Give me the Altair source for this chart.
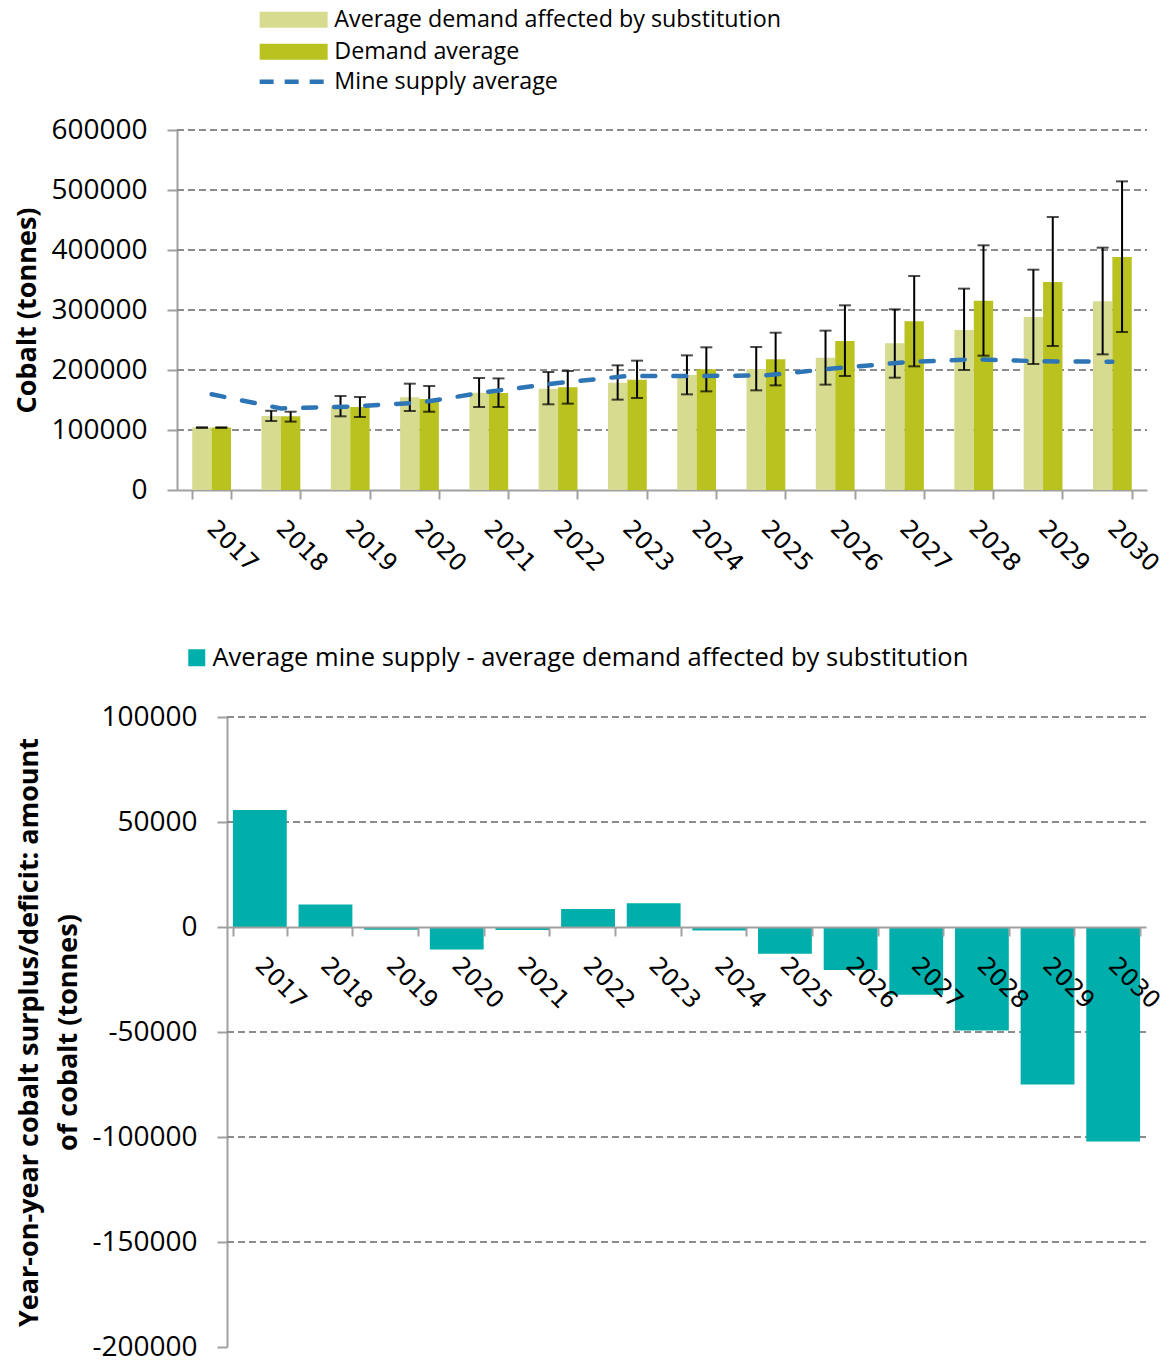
import altair as alt
import pandas as pd

years = [str(y) for y in range(2017, 2031)]

subst_avg = [104000, 123300, 140000, 154400, 162200, 168900, 178900, 191700, 201700, 220600, 244400, 266700, 288300, 314400]
subst_lo = [103500, 115000, 122800, 131700, 138300, 142800, 150600, 159400, 166100, 175600, 187200, 200000, 210000, 226100]
subst_hi = [104500, 132000, 156700, 177200, 186700, 196700, 207800, 224400, 238300, 265600, 301100, 335600, 367200, 403900]

demand_avg = [104000, 123000, 138300, 151700, 161700, 171100, 183900, 201100, 217800, 248300, 281100, 315600, 346700, 388300]
demand_lo = [103500, 114000, 121700, 130500, 138300, 143900, 153300, 164400, 174400, 190000, 206100, 223900, 240000, 263300]
demand_hi = [104500, 130500, 155000, 173300, 186000, 198300, 215600, 237800, 262200, 307800, 356700, 407800, 455000, 514400]

mine_avg = [159500, 136000, 139000, 145600, 163900, 178300, 190000, 190000, 191000, 202800, 212800, 217800, 214400, 213900]

gap = [55700, 10700, -1300, -10700, -1400, 8600, 11300, -1700, -12700, -20500, -32300, -49300, -75000, -102200]

top_ticks = [0, 100000, 200000, 300000, 400000, 500000, 600000]
top_grid = [100000, 200000, 300000, 400000, 500000, 600000]
bot_ticks = [-200000, -150000, -100000, -50000, 0, 50000, 100000]
bot_grid = [100000, 50000, -50000, -100000, -150000]

S1 = "Average demand affected by substitution"
S2 = "Demand average"
S3 = "Mine supply average"
S4 = "Average mine supply - average demand affected by substitution"

LIGHT = "#d6db8f"
DARK = "#bac220"
BLUE = "#2e75b6"
TEAL = "#00aeac"
GRID = "#8c8c8c"
AXIS = "#a0a0a0"
FONT = "Open Sans"
XFONT = "DejaVu Sans"

rows = []
for i, y in enumerate(years):
    rows.append(dict(year=y, series=S1, value=subst_avg[i], lo=subst_lo[i], hi=subst_hi[i]))
    rows.append(dict(year=y, series=S2, value=demand_avg[i], lo=demand_lo[i], hi=demand_hi[i]))
bars_df = pd.DataFrame(rows)
mine_df = pd.DataFrame(dict(year=years, series=[S3] * len(years), value=mine_avg))
gap_df = pd.DataFrame(dict(year=years, series=[S4] * len(years), value=gap))
top_grid_df = pd.DataFrame(dict(v=top_grid))
bot_grid_df = pd.DataFrame(dict(v=bot_grid))

order = [S1, S2]

# wide legend swatch: 68 x 16 px, drawn to the right of the nominal 16px symbol slot
SWATCH = "M-1,-1H7.5V1H-1Z"
DASHLINE = "M-1,0H7.5"

# ---------------- top chart ----------------
x_top = alt.X(
    "year:N",
    sort=years,
    scale=alt.Scale(paddingInner=0.44, paddingOuter=0.22),
    axis=alt.Axis(
        title=None, labelAngle=45, labelFont=XFONT, labelFontSize=24, labelColor="black",
        labelAlign="left", labelBaseline="top", labelOffset=7,
        tickBand="extent", tickSize=9, tickWidth=2, tickColor=AXIS,
        domainColor=AXIS, domainWidth=2, labelPadding=17, grid=False,
    ),
)
y_top = alt.Y(
    "value:Q",
    scale=alt.Scale(domain=[0, 600000], nice=False),
    axis=alt.Axis(
        title="Cobalt (tonnes)", values=top_ticks, labelExpr="datum.value + ''",
        labelFont=FONT, labelFontSize=28, labelColor="black", labelPadding=20,
        titleFont=FONT, titleFontSize=27, titleFontWeight="bold", titleColor="black", titlePadding=9,
        tickSize=10, tickWidth=2, tickColor=AXIS, domainColor=AXIS, domainWidth=2, grid=False,
    ),
)

top_grid_layer = alt.Chart(top_grid_df).mark_rule(strokeDash=[7, 4], color=GRID, strokeWidth=2).encode(
    y=alt.Y("v:Q"), x=alt.value(0), x2=alt.value(970)
)

bars = alt.Chart(bars_df).mark_bar().encode(
    x=x_top,
    xOffset=alt.XOffset("series:N", sort=order, scale=alt.Scale(domain=order, paddingInner=0, paddingOuter=0)),
    y=y_top,
    fill=alt.Fill(
        "series:N", sort=order,
        scale=alt.Scale(domain=order, range=[LIGHT, DARK]),
        legend=alt.Legend(
            title=None, orient="none", legendX=79, legendY=-122, direction="vertical",
            symbolType=SWATCH, symbolSize=256, symbolStrokeWidth=0,
            labelFont=FONT, labelFontSize=23.3, labelColor="black", labelOffset=55, rowPadding=8,
            labelLimit=1000,
        ),
    ),
)

err = alt.Chart(bars_df).mark_rule(color="black", strokeWidth=2).encode(
    x=alt.X("year:N", sort=years),
    xOffset=alt.XOffset("series:N", sort=order),
    y=alt.Y("lo:Q"),
    y2="hi:Q",
)
cap_lo = alt.Chart(bars_df).mark_tick(color="black", thickness=2, size=12, orient="horizontal").encode(
    x=alt.X("year:N", sort=years),
    xOffset=alt.XOffset("series:N", sort=order),
    y=alt.Y("lo:Q"),
)
cap_hi = alt.Chart(bars_df).mark_tick(color="black", thickness=2, size=12, orient="horizontal").encode(
    x=alt.X("year:N", sort=years),
    xOffset=alt.XOffset("series:N", sort=order),
    y=alt.Y("hi:Q"),
)

line = alt.Chart(mine_df).mark_line(strokeDash=[13, 18], strokeWidth=4.5, strokeCap="round").encode(
    x=alt.X("year:N", sort=years),
    y=alt.Y("value:Q"),
    stroke=alt.Stroke(
        "series:N",
        scale=alt.Scale(domain=[S3], range=[BLUE]),
        legend=alt.Legend(
            title=None, orient="none", legendX=79, legendY=-60, direction="vertical",
            symbolType=DASHLINE, symbolSize=256, symbolStrokeWidth=4.5, symbolDash=[14, 11],
            symbolFillColor="transparent",
            labelFont=FONT, labelFontSize=23.3, labelColor="black", labelOffset=55, labelLimit=1000,
        ),
    ),
)

top = alt.layer(top_grid_layer, bars, err, cap_lo, cap_hi, line).properties(
    width=970, height=360, view=alt.ViewBackground(stroke="transparent", strokeWidth=0)
).resolve_scale(fill="independent", stroke="independent")

# ---------------- bottom chart ----------------
x_bot = alt.X(
    "year:N",
    sort=years,
    scale=alt.Scale(range=[50, 969], paddingInner=0.18, paddingOuter=0.09),
    axis=alt.Axis(
        title=None, labelAngle=45, labelFont=XFONT, labelFontSize=24, labelColor="black",
        labelAlign="left", labelBaseline="top", offset=-420, zindex=1, labelOffset=7,
        tickBand="extent", tickSize=9, tickWidth=2, tickColor=AXIS,
        domainColor=AXIS, domainWidth=2, labelPadding=17, grid=False,
    ),
)
y_bot = alt.Y(
    "value:Q",
    scale=alt.Scale(domain=[-200000, 100000], nice=False),
    axis=alt.Axis(
        title=["Year-on-year cobalt surplus/deficit: amount", "of cobalt (tonnes)"], values=bot_ticks,
        labelExpr="datum.value + ''",
        offset=-50,
        labelFont=FONT, labelFontSize=28, labelColor="black", labelPadding=20,
        titleFont=FONT, titleFontSize=27, titleFontWeight="bold", titleColor="black", titlePadding=9,
        titleLineHeight=39,
        tickSize=10, tickWidth=2, tickColor=AXIS, domainColor=AXIS, domainWidth=2, grid=False,
    ),
)

bot_grid_layer = alt.Chart(bot_grid_df).mark_rule(strokeDash=[7, 4], color=GRID, strokeWidth=2).encode(
    y=alt.Y("v:Q"), x=alt.value(50), x2=alt.value(969)
)

gap_bars = alt.Chart(gap_df).mark_bar().encode(
    x=x_bot,
    y=y_bot,
    fill=alt.Fill(
        "series:N",
        scale=alt.Scale(domain=[S4], range=[TEAL]),
        legend=alt.Legend(
            title=None, orient="none", legendX=7, legendY=-72, direction="vertical",
            symbolType="square", symbolSize=289, symbolStrokeWidth=0,
            labelFont=FONT, labelFontSize=25.5, labelColor="black", labelOffset=3, labelLimit=1000,
        ),
    ),
)

bottom = alt.layer(bot_grid_layer, gap_bars).properties(
    width=970, height=630, view=alt.ViewBackground(stroke="transparent", strokeWidth=0)
)

chart = alt.vconcat(top, bottom, spacing=68).resolve_scale(
    fill="independent", stroke="independent"
).resolve_legend(fill="independent", stroke="independent").properties(
    padding={"left": 5, "top": 0, "right": 0, "bottom": 0}
).configure_view(stroke="transparent", strokeWidth=0).configure(background="white")

chart.save("out.html", embed_options={"renderer": "svg", "actions": False})
